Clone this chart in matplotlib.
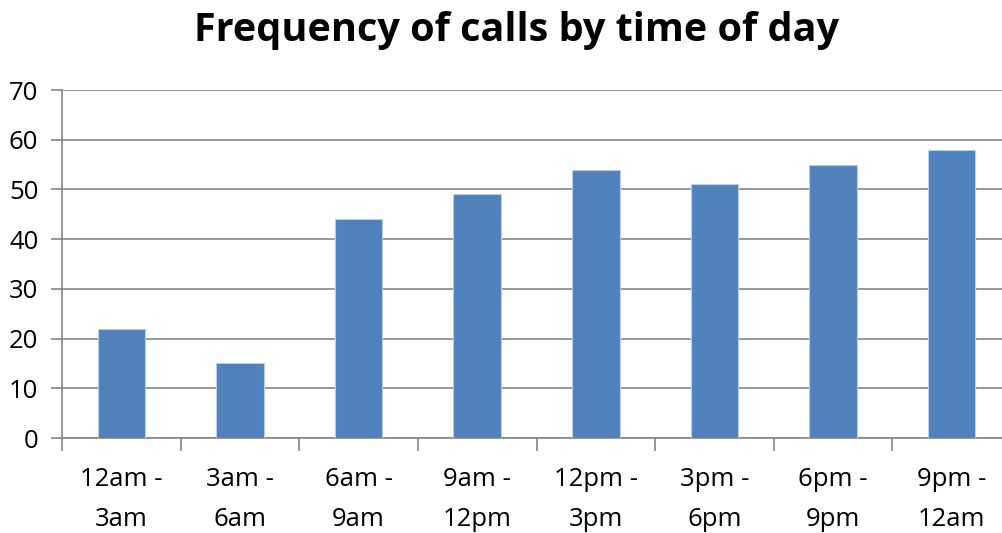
import numpy as np
import matplotlib.pyplot as plt

# ===================== DATA =====================
categories = ["12am -\n3am", "3am -\n6am", "6am -\n9am", "9am -\n12pm",
              "12pm -\n3pm", "3pm -\n6pm", "6pm -\n9pm", "9pm -\n12am"]
calls = [22, 15, 44, 49, 54, 51, 55, 58]
y_ticks = [0, 10, 20, 30, 40, 50, 60, 70]

BAR_COLOR = "#4F81BD"
GRID_COLOR = "#868686"

plt.rcParams["font.family"] = ["Open Sans", "DejaVu Sans"]

W, H = 1003, 533
fig = plt.figure(figsize=(W / 100, H / 100), dpi=100)

# axes spans past the right edge, like the cropped source image
left, right, top, bottom = 62, 1011, 90, 438
ax = fig.add_axes([left / W, 1 - bottom / H, (right - left) / W, (bottom - top) / H])

x = np.arange(len(categories))
ax.bar(x, calls, width=0.4, color=BAR_COLOR, edgecolor="#B9CDE5", linewidth=0.8, zorder=3)

ax.set_xlim(-0.5, len(categories) - 0.5)
ax.set_ylim(0, 70)
ax.set_yticks(y_ticks)
ax.set_yticklabels([str(v) for v in y_ticks], fontsize=18.5)
ax.yaxis.grid(True, color=GRID_COLOR, linewidth=1.2, zorder=0)

# category labels centered, tick marks between categories
ax.set_xticks(x)
ax.set_xticklabels(categories, fontsize=18.5, linespacing=1.78)
ax.tick_params(axis="x", length=0, pad=21)
ax.set_xticks(np.arange(len(categories) + 1) - 0.5, minor=True)
ax.tick_params(axis="x", which="minor", length=9, width=1.2, color=GRID_COLOR)
ax.tick_params(axis="y", length=8, width=1.2, color=GRID_COLOR, pad=9)

for side in ["top", "right"]:
    ax.spines[side].set_visible(False)
for side in ["left", "bottom"]:
    ax.spines[side].set_color(GRID_COLOR)
    ax.spines[side].set_linewidth(1.2)

fig.text(517 / W, 1 - 31 / H, "Frequency of calls by time of day",
         ha="center", va="center", fontsize=28.5, fontweight="bold")

plt.savefig("out.png", dpi=100)
plt.close()
